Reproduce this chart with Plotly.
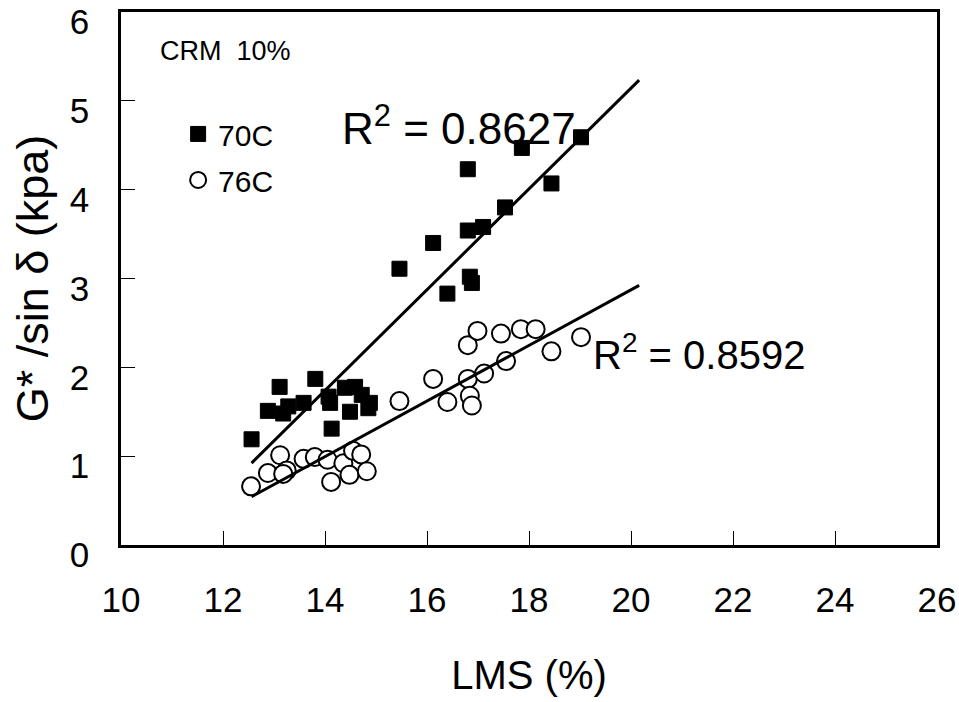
import numpy as np
import plotly.graph_objects as go

# ---- data ----
lms_70 = [12.56, 12.88, 13.11, 13.18, 13.28, 13.58, 13.81, 14.07, 14.10, 14.13,
          14.39, 14.59, 14.49, 14.72, 14.85, 14.88,
          15.46, 16.12, 16.40, 16.80, 16.80, 16.84, 16.88, 17.10,
          17.53, 17.86, 18.44, 19.02]
g_70 = [1.19, 1.51, 1.78, 1.48, 1.56, 1.60, 1.87, 1.67, 1.60, 1.31,
        1.77, 1.78, 1.50, 1.69, 1.54, 1.60,
        3.11, 3.40, 2.83, 4.23, 3.54, 3.02, 2.95, 3.58,
        3.80, 4.47, 4.07, 4.59]

lms_76 = [12.55, 12.88, 13.12, 13.25, 13.18, 13.58, 13.80, 14.05, 14.12, 14.36,
          14.48, 14.55, 14.71, 14.82,
          15.46, 16.12, 16.40, 16.80, 16.84, 16.88, 16.80, 16.99, 17.12,
          17.45, 17.55, 17.84, 18.13, 18.44, 19.02]
g_76 = [0.66, 0.81, 1.01, 0.84, 0.80, 0.97, 0.99, 0.96, 0.71, 0.92,
        0.79, 1.06, 1.02, 0.83,
        1.62, 1.87, 1.61, 1.87, 1.68, 1.57, 2.25, 2.41, 1.93,
        2.38, 2.07, 2.43, 2.43, 2.18, 2.34]

trend_x_range = [12.56, 20.16]
r2_labels = ["R<sup>2</sup> = 0.8627", "R<sup>2</sup> = 0.8592"]
series_names = ["70C", "76C"]
x_ticks = [10, 12, 14, 16, 18, 20, 22, 24, 26]
y_ticks = [0, 1, 2, 3, 4, 5, 6]

FONT = "Liberation Sans, Arial, sans-serif"

fig = go.Figure()

fig.add_trace(go.Scatter(
    x=lms_70, y=g_70, mode="markers", name=series_names[0], legendgroup="a",
    marker=dict(symbol="square", size=15, color="black", line=dict(color="black", width=1)),
))
fig.add_trace(go.Scatter(
    x=lms_76, y=g_76, mode="markers", name=series_names[1], legendgroup="b",
    marker=dict(symbol="circle", size=18, color="white", line=dict(color="black", width=2)),
))

tx = np.array(trend_x_range)
for xs, ys in [(lms_70, g_70), (lms_76, g_76)]:
    m, b = np.polyfit(xs, ys, 1)
    fig.add_trace(go.Scatter(
        x=tx, y=m * tx + b, mode="lines", showlegend=False,
        line=dict(color="black", width=3), hoverinfo="skip",
    ))

fig.add_annotation(x=14.30, y=4.72, xref="x", yref="y", text=r2_labels[0],
                   showarrow=False, xanchor="left", yanchor="middle",
                   font=dict(family=FONT, size=44, color="black"))
fig.add_annotation(x=19.22, y=2.17, xref="x", yref="y", text=r2_labels[1],
                   showarrow=False, xanchor="left", yanchor="middle",
                   font=dict(family=FONT, size=40, color="black"))
fig.add_annotation(x=10.72, y=5.56, xref="x", yref="y", text="CRM  10%",
                   showarrow=False, xanchor="left", yanchor="middle",
                   font=dict(family=FONT, size=27, color="black"))

fig.update_layout(
    width=959, height=702,
    margin=dict(l=121, r=22, t=12, b=157, autoexpand=False),
    paper_bgcolor="white", plot_bgcolor="white",
    font=dict(family=FONT, color="black"),
    showlegend=True,
    legend=dict(x=0.07, y=0.82, xanchor="left", yanchor="top",
                bgcolor="rgba(0,0,0,0)", font=dict(family=FONT, size=30),
                tracegroupgap=4, itemwidth=30),
    xaxis=dict(range=[10, 26], tickvals=x_ticks, ticks="inside", ticklen=14,
               tickwidth=1, tickcolor="black", showline=True, linecolor="black",
               linewidth=2.5, mirror=True, showgrid=False, zeroline=False,
               automargin=False,
               tickfont=dict(family=FONT, size=35), ticklabelstandoff=22,
               ticklabelshift=0, ticklabeloverflow="allow",
               title=dict(text="LMS (%)", font=dict(family=FONT, size=40), standoff=44)),
    yaxis=dict(range=[0, 6], tickvals=y_ticks, ticks="inside", ticklen=14,
               tickwidth=1, tickcolor="black", showline=True, linecolor="black",
               linewidth=2.5, mirror=True, showgrid=False, zeroline=False,
               automargin=False,
               tickfont=dict(family=FONT, size=35), ticklabelstandoff=22,
               ticklabelshift=10, ticklabeloverflow="allow",
               title=dict(text="G* /sin δ (kpa)", font=dict(family=FONT, size=45), standoff=8)),
)

fig.write_html("out.html", config={"displayModeBar": False},
               post_script="document.body.style.margin='0';")
